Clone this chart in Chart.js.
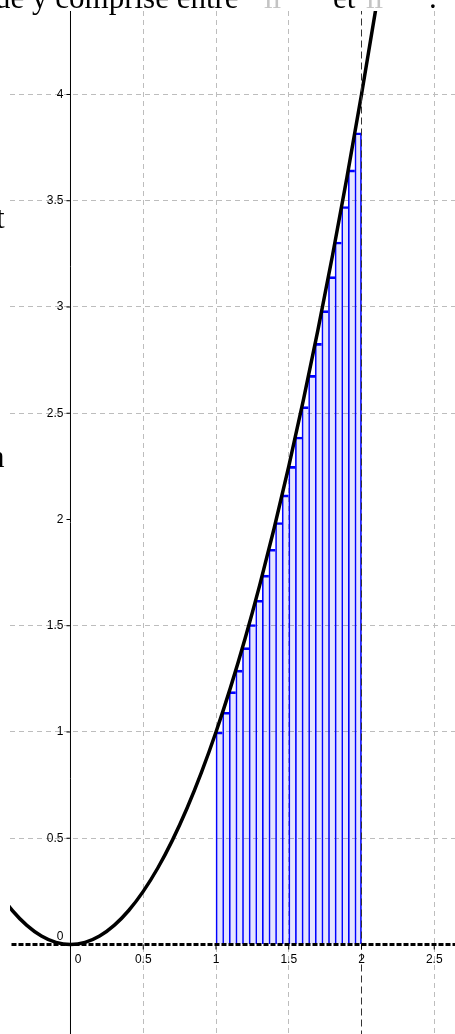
<!DOCTYPE html>
<html>
<head>
<meta charset="utf-8">
<script src="https://cdn.jsdelivr.net/npm/chart.js@4/dist/chart.umd.min.js"></script>
<style>
  html, body { margin: 0; padding: 0; background: #fff; }
  #wrap { position: relative; width: 455px; height: 1034px; overflow: hidden; }
  .txt { position: absolute; font-family: "Liberation Serif", "Times New Roman", serif; font-size: 31px; line-height: 31px; color: #000; white-space: pre; }
  .faint { color: #c4c4c4; }
</style>
</head>
<body>
<div id="wrap">
  <canvas id="chart"></canvas>
  <div class="txt" style="left:-5px; top:-18.5px;">ue y comprise entre</div>
  <div class="txt faint" style="left:264px; top:-18.5px;">ıı</div>
  <div class="txt" style="left:333px; top:-18.5px;">et</div>
  <div class="txt faint" style="left:366px; top:-18.5px;">ıı</div>
  <div class="txt" style="left:429px; top:-18.5px;">.</div>
  <div class="txt" style="left:-4px; top:202px;">t</div>
  <div class="txt" style="left:-11px; top:441px;">n</div>
</div>
<script>
// Riemann rectangles on [1, 2] (22 strips, left endpoints)
const rectMid = [1.0227, 1.0682, 1.1136, 1.1591, 1.2045, 1.2500, 1.2955, 1.3409, 1.3864, 1.4318, 1.4773,
                 1.5227, 1.5682, 1.6136, 1.6591, 1.7045, 1.7500, 1.7955, 1.8409, 1.8864, 1.9318, 1.9773];
const rectHeight = [1.000, 1.093, 1.190, 1.291, 1.397, 1.506, 1.620, 1.738, 1.860, 1.986, 2.116,
                    2.250, 2.388, 2.531, 2.678, 2.829, 2.983, 3.143, 3.306, 3.473, 3.645, 3.820];

// the curve
const curveX = [-0.5, -0.4, -0.3, -0.2, -0.1, 0, 0.1, 0.2, 0.3, 0.4, 0.5, 0.6, 0.7, 0.8, 0.9, 1.0,
                1.1, 1.2, 1.3, 1.4, 1.5, 1.6, 1.7, 1.8, 1.9, 2.0, 2.1, 2.2];
const curveY = [0.25, 0.16, 0.09, 0.04, 0.01, 0, 0.01, 0.04, 0.09, 0.16, 0.25, 0.36, 0.49, 0.64, 0.81, 1.0,
                1.21, 1.44, 1.69, 1.96, 2.25, 2.56, 2.89, 3.24, 3.61, 4.0, 4.41, 4.84];

// tick labels
const xTickValues = [0, 0.5, 1, 1.5, 2, 2.5];
const xTickLabels = ['0', '0.5', '1', '1.5', '2', '2.5'];
const yTickValues = [0, 0.5, 1, 1.5, 2, 2.5, 3, 3.5, 4];
const yTickLabels = ['0', '0.5', '1', '1.5', '2', '2.5', '3', '3.5', '4'];

const xMin = -0.4158, xMax = 2.6426;
const yMin = -0.4212, yMax = 4.3929;

const axisLabels = {
    id: 'axisLabels',
    afterDatasetsDraw(chart) {
        const { ctx, scales: { x, y } } = chart;
        const x0 = x.getPixelForValue(0);
        const y0 = y.getPixelForValue(0);
        ctx.save();
        ctx.font = '12px "Liberation Sans Narrow", "Liberation Sans", sans-serif';
        ctx.fillStyle = '#000';
        ctx.strokeStyle = '#000';
        ctx.lineWidth = 1;
        xTickValues.forEach((v, i) => {
            const px = x.getPixelForValue(v);
            ctx.beginPath();
            ctx.moveTo(px, y0);
            ctx.lineTo(px, y0 + 5);
            ctx.stroke();
            ctx.textAlign = 'center';
            ctx.textBaseline = 'middle';
            ctx.fillText(xTickLabels[i], v === 0 ? px + 7.5 : px, y0 + 15);
        });
        yTickValues.forEach((v, i) => {
            const py = y.getPixelForValue(v);
            if (v !== 0) {
                ctx.beginPath();
                ctx.moveTo(x0 - 4, py);
                ctx.lineTo(x0, py);
                ctx.stroke();
            }
            ctx.textAlign = 'right';
            ctx.textBaseline = 'middle';
            ctx.fillText(yTickLabels[i], x0 - 7, v === 0 ? py - 8 : py);
        });
        ctx.restore();
    }
};

const gridColor = (ctx) => (ctx.tick && (ctx.tick.value === 0 || ctx.tick.value === 2)) ? 'rgba(0,0,0,0)' : '#bdbdbd';

new Chart(document.getElementById('chart'), {
    type: 'bar',
    data: {
        datasets: [
            {
                type: 'line',
                label: 'y = 0',
                data: [{ x: xMin - 1, y: 0 }, { x: xMax + 1, y: 0 }],
                borderColor: '#000',
                borderWidth: 3,
                borderDash: [5, 2],
                pointRadius: 0,
                order: 1
            },
            {
                type: 'line',
                label: 'x = 2',
                data: [{ x: 2, y: yMin - 1 }, { x: 2, y: yMax + 1 }],
                borderColor: '#333',
                borderWidth: 1,
                borderDash: [7, 4],
                pointRadius: 0,
                order: 2
            },
            {
                type: 'line',
                label: 'curve',
                data: curveX.map((v, i) => ({ x: v, y: curveY[i] })),
                borderColor: '#000',
                borderWidth: 3.5,
                tension: 0.4,
                cubicInterpolationMode: 'monotone',
                pointRadius: 0,
                order: 3
            },
            {
                type: 'line',
                label: 'axis',
                data: [{ x: 0, y: yMin - 1 }, { x: 0, y: yMax + 1 }],
                borderColor: '#000',
                borderWidth: 1,
                pointRadius: 0,
                order: 4
            },
            {
                type: 'bar',
                label: 'rectangles',
                data: rectMid.map((v, i) => ({ x: v, y: rectHeight[i] })),
                backgroundColor: 'rgba(0, 0, 255, 0.1)',
                borderColor: '#0000ff',
                borderSkipped: false,
                borderWidth: (ctx) => ({ left: 1, top: 2, bottom: 0, right: ctx.dataIndex === rectMid.length - 1 ? 1 : 0 }),
                barPercentage: 1,
                categoryPercentage: 1,
                order: 5
            }
        ]
    },
    options: {
        responsive: true,
        maintainAspectRatio: false,
        animation: false,
        layout: { padding: { left: 10, top: 11, right: 0, bottom: 0 } },
        plugins: {
            legend: { display: false },
            tooltip: { enabled: false },
            title: { display: false }
        },
        scales: {
            x: {
                type: 'linear',
                offset: false,
                min: xMin,
                max: xMax,
                ticks: { display: false, stepSize: 0.5, includeBounds: false },
                grid: { color: gridColor, lineWidth: 1, drawTicks: false, offset: false },
                border: { display: false, dash: [5, 4] },
                afterFit(scale) { scale.height = 0; }
            },
            y: {
                type: 'linear',
                min: yMin,
                max: yMax,
                ticks: { display: false, stepSize: 0.5, includeBounds: false },
                grid: { color: gridColor, lineWidth: 1, drawTicks: false },
                border: { display: false, dash: [5, 4] },
                afterFit(scale) { scale.width = 0; }
            }
        }
    },
    plugins: [axisLabels]
});
</script>
</body>
</html>
